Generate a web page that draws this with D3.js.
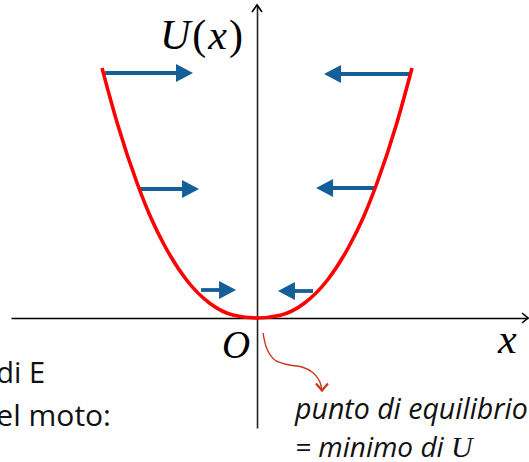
<!DOCTYPE html>
<html lang="it">
<head>
<meta charset="UTF-8">
<title>U(x) - punto di equilibrio</title>
<script src="https://d3js.org/d3.v7.min.js"></script>
<style>
  body { margin: 0; background: #fff; }
  svg { display: block; }
</style>
</head>
<body>
<svg width="529" height="462"></svg>
<script>
// potential curve U(x) (units: x half-width = 1, top of curve = 1)
const curveX = [-1.0, -0.9, -0.774, -0.684, -0.594, -0.452, -0.303, -0.15, 0, 0.15, 0.303, 0.452, 0.594, 0.684, 0.774, 0.9, 1.0];
const curveU = [1.0, 0.776, 0.54, 0.40, 0.287, 0.15, 0.058, 0.011, 0, 0.011, 0.058, 0.15, 0.287, 0.40, 0.54, 0.776, 1.0];

// force arrows (tail on the curve, head towards O)
const arrowU    = [0.98, 0.516, 0.112, 0.976, 0.52, 0.108];
const arrowFrom = [-0.98, -0.761, -0.361, 0.994, 0.768, 0.361];
const arrowTo   = [-0.413, -0.374, -0.135, 0.432, 0.381, 0.135];

// small red pointer from O to the caption
const noteX = [0.039, 0.065, 0.115, 0.2, 0.29, 0.36, 0.405, 0.419];
const noteU = [-0.06, -0.125, -0.168, -0.187, -0.196, -0.218, -0.255, -0.29];

const width = 529, height = 462;
const svg = d3.select("svg");

const x = d3.scaleLinear().domain([-1.587, 1.748]).range([11, 528]);
const y = d3.scaleLinear().domain([-0.44, 1.252]).range([428, 5]);

// axes (no ticks)
svg.append("g")
    .attr("transform", `translate(0,${y(0)})`)
    .call(d3.axisBottom(x).tickValues([]).tickSizeOuter(0))
    .select(".domain").attr("stroke", "#000").attr("stroke-width", 1.6);

svg.append("g")
    .attr("transform", `translate(${x(0)},0)`)
    .call(d3.axisLeft(y).tickValues([]).tickSizeOuter(0))
    .select(".domain").attr("stroke", "#222").attr("stroke-width", 1.6);

// axis arrowheads
const xe = x(1.748), y0 = y(0), ye = y(1.252), x0 = x(0);
svg.append("path")
    .attr("d", `M${xe - 6},${y0 - 5} L${xe},${y0} L${xe - 6},${y0 + 5}`)
    .attr("fill", "none").attr("stroke", "#000").attr("stroke-width", 1.6);
svg.append("path")
    .attr("d", `M${x0 - 5},${ye + 7} L${x0},${ye} L${x0 + 5},${ye + 7}`)
    .attr("fill", "none").attr("stroke", "#000").attr("stroke-width", 1.6);

// arrows
const arrowColor = "#155f98";
const arrows = arrowU.map((u, i) => ({ u: u, from: arrowFrom[i], to: arrowTo[i] }));
arrows.forEach(a => {
    const x1 = x(a.from), x2 = x(a.to), yy = y(a.u);
    const dir = Math.sign(x2 - x1), head = 17;
    svg.append("line")
        .attr("x1", x1).attr("y1", yy)
        .attr("x2", x2 - dir * (head - 2)).attr("y2", yy)
        .attr("stroke", arrowColor).attr("stroke-width", 3.8);
    svg.append("path")
        .attr("d", `M${x2},${yy} L${x2 - dir * head},${yy - 9} L${x2 - dir * head},${yy + 9} Z`)
        .attr("fill", arrowColor);
});

// U(x) curve
const pts = curveX.map((v, i) => [v, curveU[i]]);
svg.append("path")
    .datum(pts)
    .attr("d", d3.line().x(d => x(d[0])).y(d => y(d[1])).curve(d3.curveMonotoneX))
    .attr("fill", "none")
    .attr("stroke", "#ff0000")
    .attr("stroke-width", 3.6);

// pointer to caption
const notePts = noteX.map((v, i) => [v, noteU[i]]);
const noteColor = "#c8381c";
svg.append("path")
    .datum(notePts)
    .attr("d", d3.line().x(d => x(d[0])).y(d => y(d[1])).curve(d3.curveCatmullRom))
    .attr("fill", "none").attr("stroke", noteColor).attr("stroke-width", 1.4);
const tip = notePts[notePts.length - 1];
svg.append("path")
    .attr("d", `M${x(tip[0]) - 6},${y(tip[1]) - 7} L${x(tip[0])},${y(tip[1])} L${x(tip[0]) + 6},${y(tip[1]) - 7}`)
    .attr("fill", "none").attr("stroke", noteColor).attr("stroke-width", 2.2);

// labels
const serif = "'Liberation Serif', 'DejaVu Serif', serif";
const sans = "'Open Sans', 'Liberation Sans', sans-serif";

const ul = svg.append("text")
    .attr("x", 160).attr("y", 49)
    .attr("font-family", serif).attr("font-size", 42).attr("letter-spacing", 2);
ul.append("tspan").attr("font-style", "italic").text("U");
ul.append("tspan").text("(");
ul.append("tspan").attr("font-style", "italic").text("x");
ul.append("tspan").text(")");

svg.append("text")
    .attr("x", 222).attr("y", 358)
    .attr("font-family", serif).attr("font-style", "italic").attr("font-size", 39)
    .text("O");

svg.append("text")
    .attr("x", 498).attr("y", 353)
    .attr("font-family", serif).attr("font-style", "italic").attr("font-size", 42)
    .text("x");

svg.append("text")
    .attr("x", 45).attr("y", 383).attr("text-anchor", "end")
    .attr("font-family", sans).attr("font-size", 29).attr("fill", "#111")
    .text("di E");

svg.append("text")
    .attr("x", 111).attr("y", 426).attr("text-anchor", "end")
    .attr("font-family", sans).attr("font-size", 30).attr("fill", "#111")
    .text("el moto:");

svg.append("text")
    .attr("x", 295).attr("y", 419)
    .attr("font-family", sans).attr("font-style", "italic").attr("font-size", 28.5).attr("fill", "#111")
    .text("punto di equilibrio");

const cap = svg.append("text")
    .attr("x", 295).attr("y", 457)
    .attr("font-family", sans).attr("font-style", "italic").attr("font-size", 28).attr("fill", "#111");
cap.append("tspan").text("= minimo di ");
cap.append("tspan").attr("font-family", serif).attr("font-size", 30).text("U");
</script>
</body>
</html>
